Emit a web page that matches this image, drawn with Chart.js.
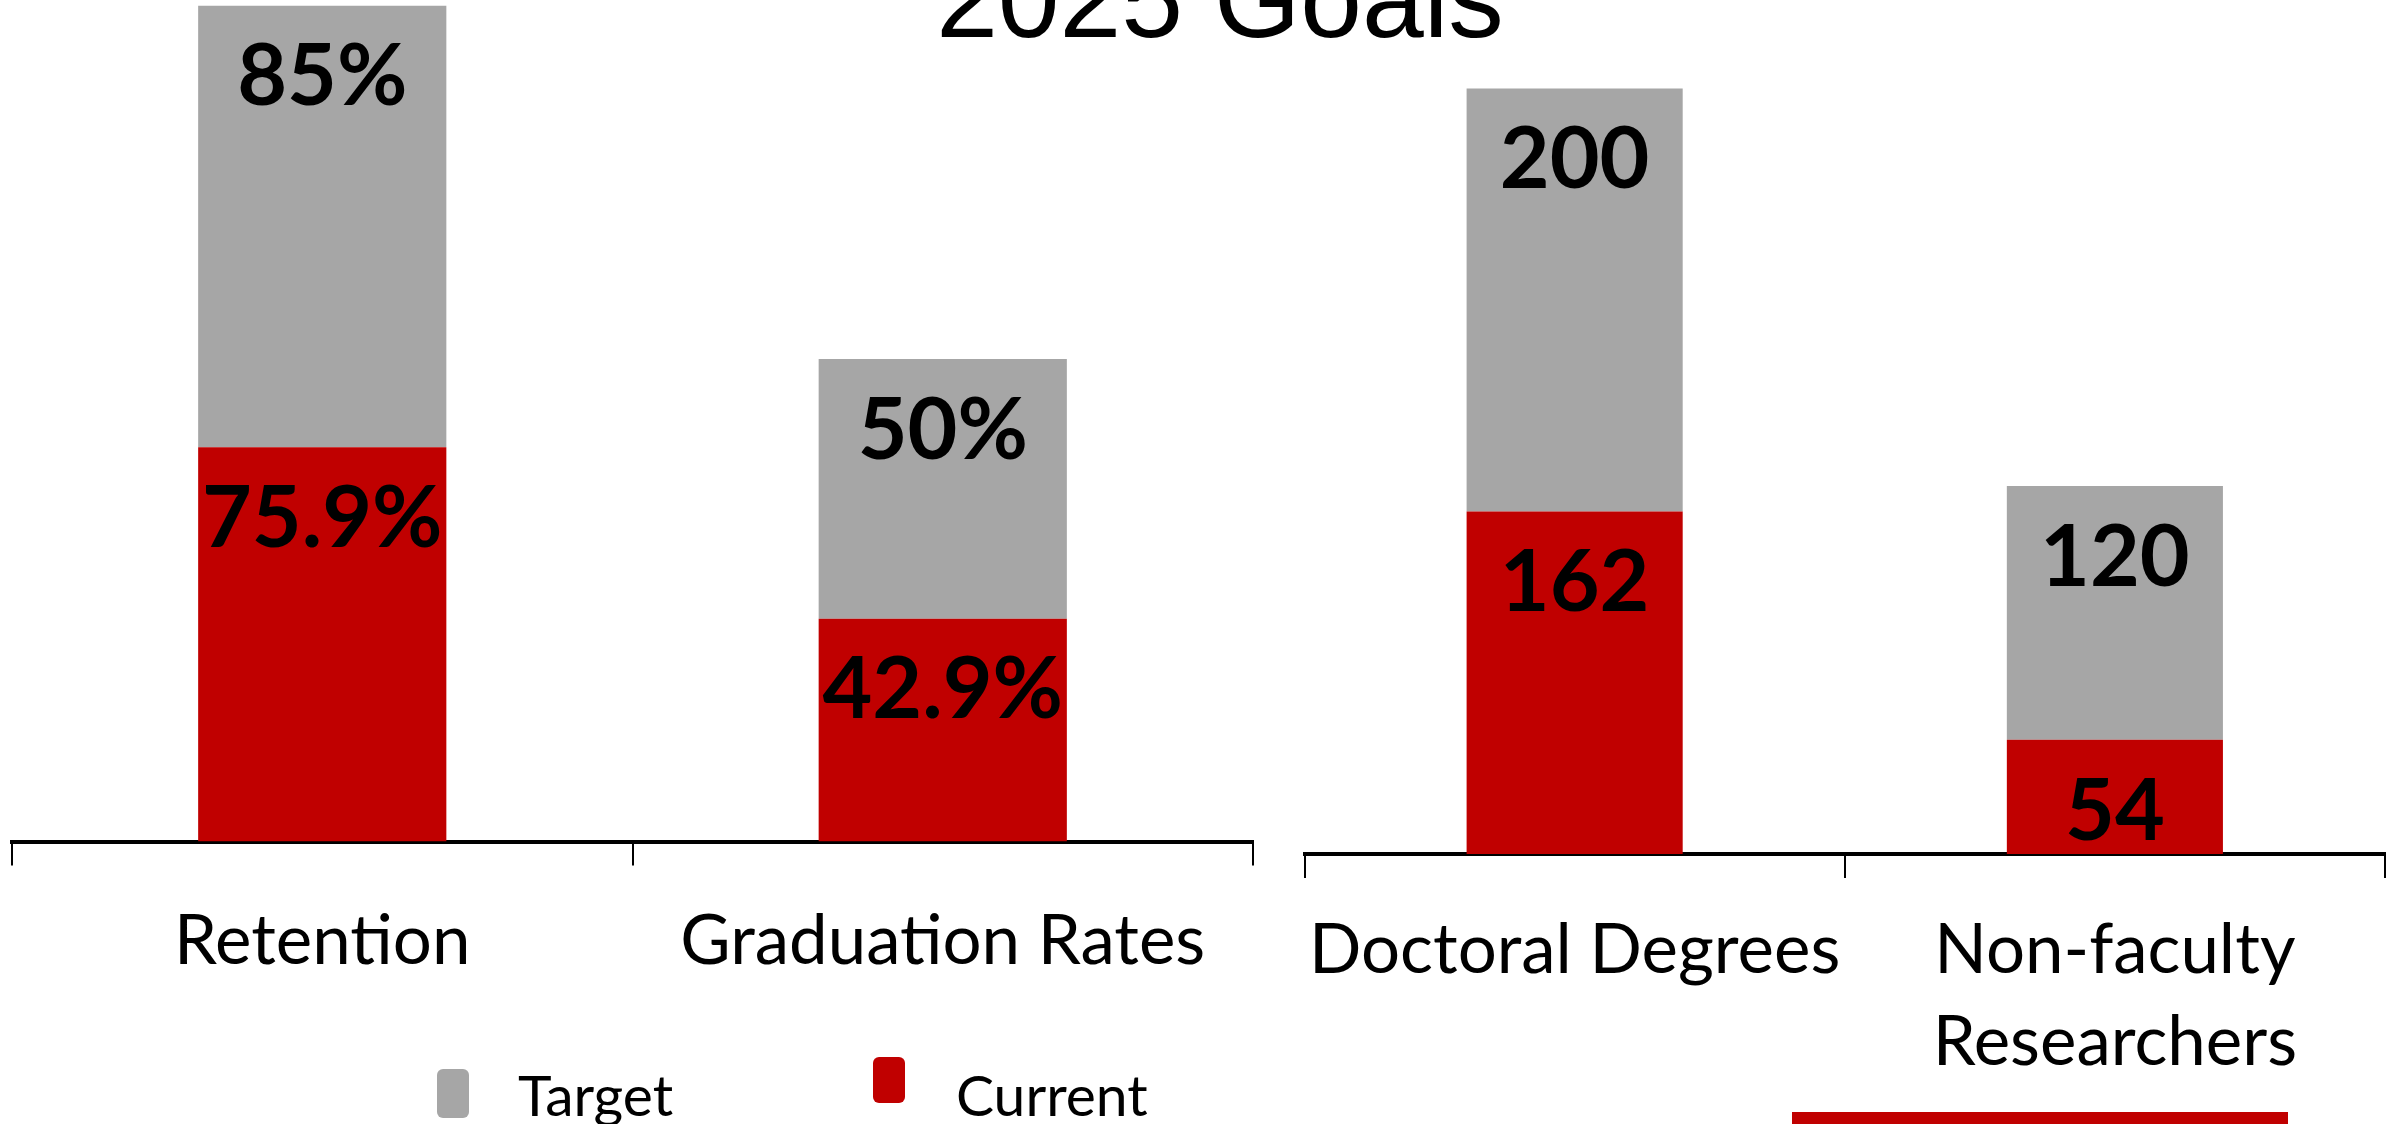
<!DOCTYPE html>
<html>
<head>
<meta charset="utf-8">
<script src="https://cdn.jsdelivr.net/npm/chart.js@4"></script>
<style>
  html, body { margin: 0; padding: 0; background: #fff; }
  body { width: 2402px; height: 1124px; position: relative; overflow: hidden; }
  #title {
    position: absolute; left: 1220px; top: -56px; transform: translateX(-50%);
    font: 111px/1 "Liberation Sans", Arial, sans-serif; color: #000; white-space: nowrap;
  }
  #rates { position: absolute; left: 0; top: 0; }
  #counts { position: absolute; left: 1282px; top: 0; }
  .key-box { position: absolute; width: 32px; border-radius: 6px; }
  .key-text { position: absolute; font: 57px/1 Lato, sans-serif; color: #000; white-space: nowrap; }
  #deco { position: absolute; left: 1792px; top: 1112px; width: 496px; height: 12px; background: #c00000; }
</style>
</head>
<body>
<div id="title">2025 Goals</div>
<canvas id="rates" width="1265" height="1124"></canvas>
<canvas id="counts" width="1112" height="1124"></canvas>
<div id="legend"></div>
<div id="deco"></div>
<script>
const rateCategories = ['Retention', 'Graduation Rates'];
const rateCurrent = [75.9, 42.9];
const rateTarget = [85, 50];

const countCategories = ['Doctoral Degrees', ['Non-faculty', 'Researchers']];
const countCurrent = [162, 54];
const countTarget = [200, 120];

const seriesNames = ['Target', 'Current'];
const RED = '#c00000';
const GREY = '#a6a6a6';

// value text sitting near the top of each bar segment
const valueLabels = {
  id: 'valueLabels',
  afterDatasetsDraw(chart, args, opts) {
    const ctx = chart.ctx;
    ctx.save();
    ctx.font = 'bold 86px Lato';
    ctx.fillStyle = '#000';
    ctx.textAlign = 'center';
    ctx.textBaseline = 'middle';
    chart.data.datasets.forEach((ds, i) => {
      chart.getDatasetMeta(i).data.forEach((bar, j) => {
        ctx.fillText(ds.data[j] + (opts.suffix || ''), bar.x, bar.y + 72);
      });
    });
    ctx.restore();
  }
};

function makeChart(id, labels, current, target, opt) {
  return new Chart(document.getElementById(id), {
    type: 'bar',
    data: {
      labels: labels,
      datasets: [
        { label: seriesNames[1], data: current, backgroundColor: RED },
        { label: seriesNames[0], data: target, backgroundColor: GREY }
      ]
    },
    options: {
      responsive: false,
      devicePixelRatio: 1,
      animation: false,
      categoryPercentage: 1,
      barPercentage: 0.4,
      layout: { padding: opt.padding },
      plugins: {
        legend: { display: false },
        tooltip: { enabled: false },
        valueLabels: { suffix: opt.suffix }
      },
      scales: {
        x: {
          stacked: true,
          border: { display: true, color: '#000', width: 4 },
          grid: { display: true, drawOnChartArea: false, color: '#000', lineWidth: 2, tickLength: 24, offset: true },
          ticks: {
            color: '#000',
            padding: opt.tickPad,
            font: { family: 'Lato', size: 69, lineHeight: 1.34 },
            maxRotation: 0,
            autoSkip: false
          }
        },
        y: { stacked: true, display: false, min: 0, max: opt.max }
      }
    },
    plugins: [valueLabels]
  });
}

makeChart('rates', rateCategories, rateCurrent, rateTarget, {
  suffix: '%', max: 162, tickPad: 30,
  padding: { left: 12, right: 12, top: 0, bottom: 106 }
});
makeChart('counts', countCategories, countCurrent, countTarget, {
  suffix: '', max: 400, tickPad: 26,
  padding: { left: 4, right: 9, top: 8, bottom: 9 }
});

// legend under the left chart
const legend = document.getElementById('legend');
const keys = [
  { name: seriesNames[0], color: GREY, box: [437, 1069, 49], text: 518 },
  { name: seriesNames[1], color: RED, box: [873, 1057, 46], text: 956 }
];
keys.forEach(k => {
  const b = document.createElement('div');
  b.className = 'key-box';
  b.style.left = k.box[0] + 'px';
  b.style.top = k.box[1] + 'px';
  b.style.height = k.box[2] + 'px';
  b.style.background = k.color;
  legend.appendChild(b);
  const t = document.createElement('div');
  t.className = 'key-text';
  t.style.left = k.text + 'px';
  t.style.top = '1066px';
  t.textContent = k.name;
  legend.appendChild(t);
});
</script>
</body>
</html>
